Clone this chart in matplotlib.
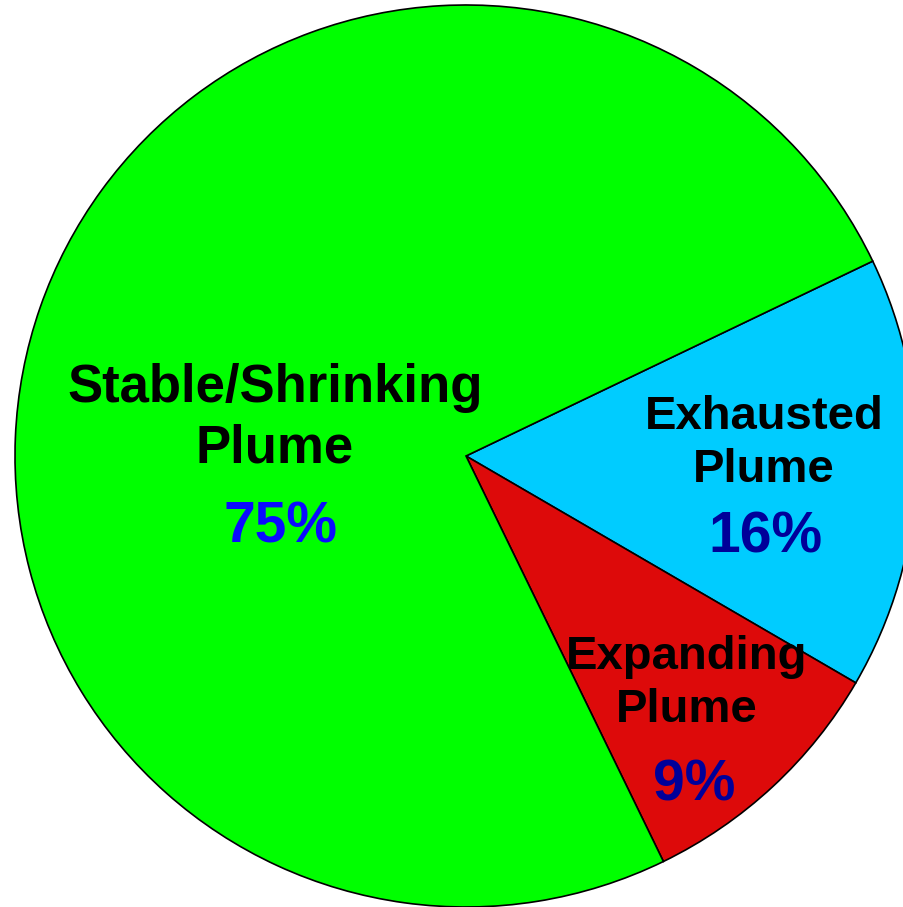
import matplotlib.pyplot as plt

# wedge sizes, labels as printed on the chart
names = ['Exhausted\nPlume', 'Expanding\nPlume', 'Stable/Shrinking\nPlume']
sizes = [15.5, 9.4, 75.1]
pct_labels = ['16%', '9%', '75%']
colors = ['#00ccff', '#dd0a0a', '#00ff00']
pct_colors = ['#000099', '#000099', '#0a0aff']

plt.rcParams['font.family'] = ['Liberation Sans', 'DejaVu Sans']

fig = plt.figure(figsize=(9.04, 9.07), dpi=100)
ax = fig.add_axes([0, 0, 1, 1])

ax.pie(sizes, colors=colors, startangle=25.6, counterclock=False,
       radius=1, center=(0, 0),
       wedgeprops=dict(edgecolor='black', linewidth=1.2))

# label anchor points (baseline of last line)
name_pos = [(0.661, -0.058), (0.489, -0.590), (-0.4235, -0.0155)]
pct_pos = [(0.663, -0.213), (0.5055, -0.763), (-0.412, -0.191)]
name_size = [34, 34, 38]

for i in range(len(names)):
    ax.text(name_pos[i][0], name_pos[i][1], names[i], ha='center', va='baseline',
            fontsize=name_size[i], fontweight='bold', color='black',
            multialignment='center', linespacing=1.28)
    ax.text(pct_pos[i][0], pct_pos[i][1], pct_labels[i], ha='center', va='baseline',
            fontsize=41, fontweight='bold', color=pct_colors[i])

ax.set_xlim((0 - 466) / 451, (904 - 466) / 451)
ax.set_ylim((456 - 907) / 451, 456 / 451)
ax.set_aspect('auto')
ax.axis('off')

fig.savefig('out.png', dpi=100)
